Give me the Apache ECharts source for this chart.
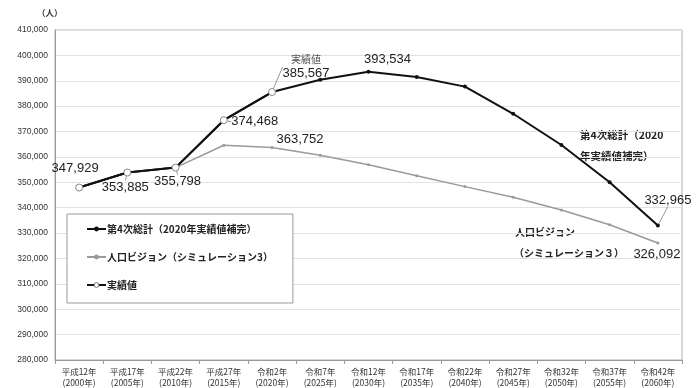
<!DOCTYPE html>
<html>
<head>
<meta charset="utf-8">
<title>人口推計</title>
<script src="https://cdn.jsdelivr.net/npm/echarts@6/dist/echarts.min.js"></script>
<style>
  html, body { margin: 0; padding: 0; background: #fff; }
  #chart { width: 697px; height: 388px; }
</style>
</head>
<body>
<div id="chart"></div>
<script>
// 年次（和暦 + 西暦）
var years = ['平成12年\n(2000年)', '平成17年\n(2005年)', '平成22年\n(2010年)', '平成27年\n(2015年)',
  '令和2年\n(2020年)', '令和7年\n(2025年)', '令和12年\n(2030年)', '令和17年\n(2035年)',
  '令和22年\n(2040年)', '令和27年\n(2045年)', '令和32年\n(2050年)', '令和37年\n(2055年)', '令和42年\n(2060年)'];

// 第4次総計（2020年実績値補完）
var soukei = [347929, 353885, 355798, 374468, 385567, 390400, 393534, 391500, 387700, 377000, 364700, 350000, 332965];
// 人口ビジョン（シミュレーション3）
var vision = [null, null, 355798, 364600, 363752, 360700, 356900, 352600, 348300, 344100, 339100, 333300, 326092];
// 実績値
var jisseki = [347929, 353885, 355798, 374468, 385567, null, null, null, null, null, null, null, null];

var seriesNames = ['第4次総計（2020年実績値補完）', '人口ビジョン（シミュレーション3）', '実績値'];

// ラベルを出す点と、その移動量 [dx, dy]
var labelShift = {
  0: { 6: [19, 1], 12: [10, -12] },
  1: { 4: [28, 5], 12: [-1, 24] },
  2: { 0: [-4, -4], 1: [-2, 30], 2: [2, 29], 3: [31, 17], 4: [34, -3] }
};
var leader = { 0: [12], 1: [], 2: [1, 2, 3, 4] };

function fmt(v) {
  return v.toString().replace(/\B(?=(\d{3})+(?!\d))/g, ',');
}

function makeData(arr, si) {
  return arr.map(function (v, i) {
    if (v == null) return null;
    var item = { value: v };
    if (labelShift[si][i]) {
      item.label = { show: true };
      item.labelLine = { show: leader[si].indexOf(i) >= 0 };
    }
    return item;
  });
}

function layoutFor(si) {
  return function (p) {
    var s = labelShift[si][p.dataIndex];
    if (!s) return {};
    return { dx: s[0], dy: s[1] };
  };
}

var labelBase = {
  show: false,
  position: 'top',
  fontFamily: 'Liberation Sans, Arial, sans-serif',
  fontSize: 13,
  color: '#222'
};
var guide = { lineStyle: { color: '#999', width: 1 }, length2: 0, smooth: false };

var chart = echarts.init(document.getElementById('chart'));
chart.setOption({
  backgroundColor: '#fff',
  animation: false,
  grid: { left: 55, right: 15, top: 30, bottom: 26, show: true, borderColor: '#b0b0b0', borderWidth: 1 },
  legend: {
    orient: 'vertical',
    left: 67,
    top: 214,
    data: [
      { name: seriesNames[0], itemStyle: { color: '#111' } },
      { name: seriesNames[1], itemStyle: { color: '#9a9a9a' } },
      { name: seriesNames[2], itemStyle: { color: '#fff', borderColor: '#777', borderWidth: 1 } }
    ],
    backgroundColor: '#fff',
    borderColor: '#999',
    borderWidth: 1,
    padding: [8, 20, 11, 19],
    itemGap: 14,
    itemWidth: 19,
    itemHeight: 6,
    textStyle: { fontFamily: 'Noto Sans CJK JP', fontSize: 10, fontWeight: 'bold', color: '#222', lineHeight: 14, padding: [0, 0, 0, -4] }
  },
  xAxis: {
    type: 'category',
    data: years,
    boundaryGap: true,
    axisLine: { lineStyle: { color: '#999' } },
    axisTick: { show: true, length: 4, lineStyle: { color: '#999' } },
    axisLabel: {
      interval: 0,
      margin: 6,
      fontFamily: 'Noto Sans CJK JP',
      fontSize: 8.5,
      lineHeight: 11,
      color: '#333'
    }
  },
  yAxis: {
    type: 'value',
    min: 280000,
    max: 410000,
    interval: 10000,
    axisLine: { show: true, lineStyle: { color: '#999' } },
    axisTick: { show: false },
    splitLine: { lineStyle: { color: '#e2e2e2' } },
    axisLabel: {
      margin: 7,
      fontFamily: 'Liberation Sans, Arial, sans-serif',
      fontSize: 8.5,
      color: '#333',
      formatter: function (v) { return fmt(v); }
    }
  },
  graphic: [
    { type: 'text', left: 37, top: 9, style: { text: '（人）', font: 'bold 8.5px "Noto Sans CJK JP"', fill: '#333' } },
    { type: 'text', left: 580, top: 130, style: { text: '第4次総計（2020', font: 'bold 10.5px "Noto Sans CJK JP"', fill: '#222' } },
    { type: 'text', left: 580, top: 151, style: { text: '年実績値補完）', font: 'bold 10.5px "Noto Sans CJK JP"', fill: '#222' } },
    { type: 'text', left: 515, top: 227, style: { text: '人口ビジョン', font: 'bold 10px "Noto Sans CJK JP"', fill: '#222' } },
    { type: 'text', left: 514, top: 248, style: { text: '（シミュレーション３）', font: 'bold 10px "Noto Sans CJK JP"', fill: '#222' } }
  ],
  series: [
    {
      name: seriesNames[1],
      type: 'line',
      z: 2,
      data: makeData(vision, 1),
      symbol: 'circle',
      symbolSize: 3,
      itemStyle: { color: '#9a9a9a' },
      lineStyle: { color: '#9a9a9a', width: 1.5 },
      label: Object.assign({}, labelBase, { formatter: function (p) { return fmt(p.value); } }),
      labelLine: guide,
      labelLayout: layoutFor(1)
    },
    {
      name: seriesNames[0],
      type: 'line',
      z: 3,
      data: makeData(soukei, 0),
      symbol: 'circle',
      symbolSize: 4,
      itemStyle: { color: '#111' },
      lineStyle: { color: '#111', width: 2 },
      label: Object.assign({}, labelBase, { formatter: function (p) { return fmt(p.value); } }),
      labelLine: guide,
      labelLayout: layoutFor(0)
    },
    {
      name: seriesNames[2],
      type: 'line',
      z: 4,
      data: makeData(jisseki, 2),
      symbol: 'circle',
      symbolSize: 7,
      itemStyle: { color: '#fff', borderColor: '#888', borderWidth: 1 },
      lineStyle: { color: '#111', width: 2 },
      label: Object.assign({}, labelBase, {
        formatter: function (p) {
          return p.dataIndex === 4 ? '{t|実績値}\n' + fmt(p.value) : fmt(p.value);
        },
        rich: { t: { fontFamily: 'Noto Sans CJK JP', fontSize: 10, color: '#555', lineHeight: 16 } }
      }),
      labelLine: guide,
      labelLayout: layoutFor(2)
    }
  ]
});
</script>
</body>
</html>
